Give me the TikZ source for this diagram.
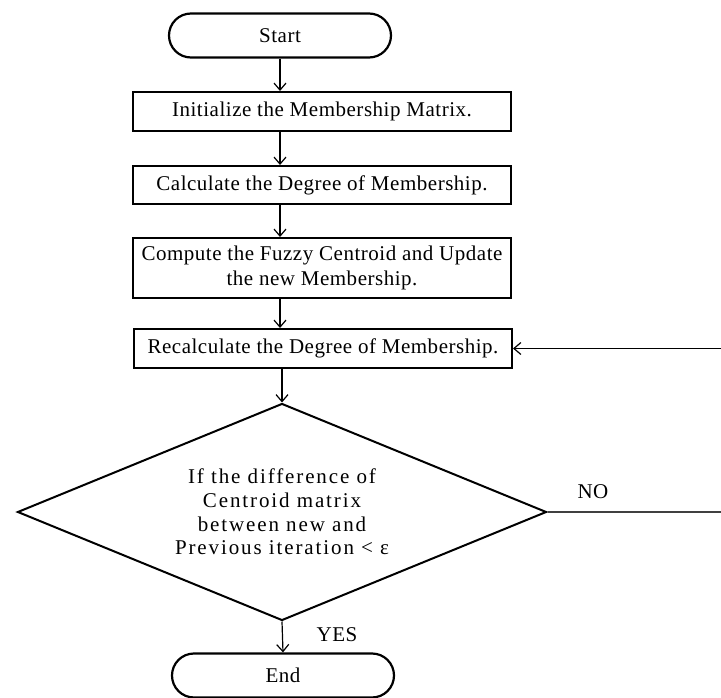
\documentclass[tikz,border=0pt]{standalone}
\usepackage{fontspec}
\setmainfont{Liberation Serif}[LetterSpace=2.5]
\newfontfamily\widefont{Liberation Serif}[LetterSpace=9]
\usetikzlibrary{shapes.geometric,shapes.misc,arrows.meta}

\begin{document}
\begin{tikzpicture}[x=1pt, y=-1pt, font=\fontsize{21}{25}\selectfont]
        % Style Definitions
        \tikzstyle{terminal} = [rounded rectangle, draw, line width=2.2pt, minimum width=222pt, minimum height=44pt, inner sep=0pt]
        \tikzstyle{process} = [rectangle, draw, line width=2pt, minimum width=378pt, inner sep=0pt, align=center]
        \tikzstyle{decision} = [diamond, draw, line width=2pt, aspect=2.4, minimum width=529pt, minimum height=217pt, inner sep=0pt, align=center, font=\widefont\fontsize{21}{23.7}\selectfont]
        \tikzstyle{arr} = [-{Straight Barb[length=7pt, width=12pt]}, line width=1.2pt]
        \tikzstyle{line} = [line width=1.2pt, black!75]

        \useasboundingbox (0,0) rectangle (721,698);

        % Nodes
        \node (start) [terminal] at (280,35.5) {Start};
        \node (init) [process, minimum height=39pt] at (322,111.5) {Initialize the Membership Matrix.};
        \node (calc) [process, minimum height=38pt] at (322,185) {Calculate the Degree of Membership.};
        \node (comp) [process, minimum height=60pt] at (322,268) {Compute the Fuzzy Centroid and Update\\ the new Membership.};
        \node (recalc) [process, minimum height=39pt] at (323,348.5) {Recalculate the Degree of Membership.};
        \node (check) [decision] at (282,512) {If the difference of\\ Centroid matrix\\ between new and\\ Previous iteration < ε};
        \node (end) [terminal] at (283,675.5) {End};
        \node (no) at (593,492) {NO};
        \node (yes) at (337,635) {YES};
        \coordinate (noright) at (721,512);
        \coordinate (backright) at (721,348.5);

        % Arrows
        \draw[arr] (start.south) -- (init.north -| start);
        \draw[arr] (init.south -| start) -- (calc.north -| start);
        \draw[arr] (calc.south -| start) -- (comp.north -| start);
        \draw[arr] (comp.south -| start) -- (recalc.north -| start);
        \draw[arr] (recalc.south -| check) -- (check.north);
        \draw[arr] (check.south) -- (end.north);
        \draw[line] (check.east) -- (noright);
        \draw[arr] (backright) -- (recalc.east);

    \end{tikzpicture}
\end{document}
